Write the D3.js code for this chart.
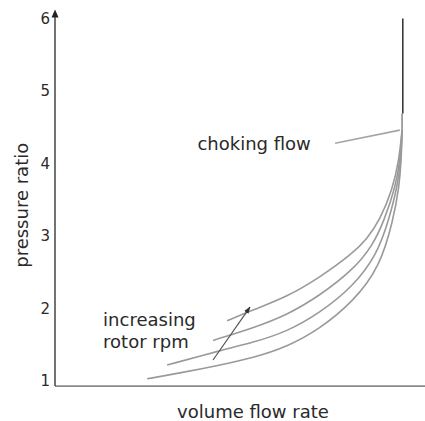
<!DOCTYPE html>
<html><head><meta charset="utf-8">
<script src="https://cdn.jsdelivr.net/npm/d3@7"></script>
<style>html,body{margin:0;padding:0;background:#fff;}svg{display:block;}</style>
</head><body>
<script>
// ---- data ----
const yTicks = [1, 2, 3, 4, 5, 6];
const yTitle = "pressure ratio";
const xTitle = "volume flow rate";
// speed lines, lowest rpm first: [flow, pressure ratio]
const curve1 = [[2.49,1.03],[3.38,1.11],[4.46,1.22],[5.35,1.32],[6.27,1.47],[7.16,1.72],[8.05,2.09],[8.78,2.57],[9.14,3.22],[9.30,3.67],[9.36,4.05],[9.38,4.46]];
const curve2 = [[3.03,1.22],[4.46,1.42],[5.35,1.53],[6.27,1.68],[7.16,1.94],[8.05,2.30],[8.70,2.74],[9.02,3.22],[9.25,3.67],[9.35,4.05],[9.38,4.46]];
const curve3 = [[4.27,1.56],[5.35,1.73],[6.27,1.91],[7.16,2.18],[8.05,2.53],[8.59,2.87],[8.90,3.22],[9.20,3.67],[9.33,4.05],[9.38,4.46]];
const curve4 = [[4.65,1.83],[5.35,1.98],[6.27,2.16],[7.16,2.43],[8.05,2.76],[8.43,2.96],[8.78,3.22],[9.12,3.64],[9.30,4.05],[9.38,4.46]];
const chokeGray = [[9.38,4.46],[9.38,4.69]];
const chokeDark = [[9.40,4.69],[9.40,6.0]];
const rpmArrow = [[4.27,1.29],[5.27,2.02]];
const chokeLeader = [[7.57,4.28],[9.32,4.46]];
const labels = [
  {text:"choking flow", x:3.85, y:4.18},
  {text:"increasing", x:1.30, y:1.76},
  {text:"rotor rpm", x:1.30, y:1.46}
];
const xMin = 0, xMax = 10, yBase = 0.93, yTop = 6;

// ---- drawing ----
const W = 425, H = 421;
const svg = d3.select("body").append("svg").attr("width", W).attr("height", H);
const x = d3.scaleLinear().domain([xMin, xMax]).range([55, 425]);
const y = d3.scaleLinear().domain([1, 6]).range([381, 18.5]);
const font = "'DejaVu Sans', Verdana, sans-serif";

const defs = svg.append("defs");
defs.append("marker").attr("id","ah").attr("viewBox","0 0 10 10").attr("refX",9).attr("refY",5)
  .attr("markerWidth",6).attr("markerHeight",6).attr("orient","auto")
  .append("path").attr("d","M0,1.5L10,5L0,8.5Z").attr("fill","#333");

// x axis line
svg.append("line").attr("x1", x(xMin)).attr("x2", x(xMax)).attr("y1", y(yBase)).attr("y2", y(yBase))
  .attr("stroke","#8a8a8a").attr("stroke-width",1.6);
// y axis line with arrow
svg.append("line").attr("x1", x(xMin)).attr("x2", x(xMin)).attr("y1", y(yBase)).attr("y2", y(yTop)-2)
  .attr("stroke","#444").attr("stroke-width",1.5);
svg.append("path")
  .attr("d", `M${x(xMin)},${y(yTop)-9}L${x(xMin)-3.5},${y(yTop)-1}L${x(xMin)+3.5},${y(yTop)-1}Z`)
  .attr("fill","#222");

// tick labels
svg.append("g").selectAll("text").data(yTicks).join("text")
  .attr("x", 50).attr("y", d => y(d)).attr("dy","0.35em")
  .attr("text-anchor","end").attr("font-family",font).attr("font-size",15).attr("fill","#2a2a2a")
  .text(d => d);

// titles
svg.append("text").attr("transform", `translate(28,${(y(yTop)+y(yBase))/2 + 3}) rotate(-90)`)
  .attr("text-anchor","middle").attr("font-family",font).attr("font-size",18).attr("fill","#2a2a2a")
  .text(yTitle);
svg.append("text").attr("x", 253).attr("y", 418).attr("text-anchor","middle")
  .attr("font-family",font).attr("font-size",18).attr("fill","#2a2a2a").text(xTitle);

// curves
const line = d3.line().x(d => x(d[0])).y(d => y(d[1])).curve(d3.curveBasis);
const straight = d3.line().x(d => x(d[0])).y(d => y(d[1]));
svg.append("g").selectAll("path").data([curve1, curve2, curve3, curve4]).join("path")
  .attr("d", line).attr("fill","none").attr("stroke","#9a9a9a").attr("stroke-width",1.6);
svg.append("path").attr("d", straight(chokeGray)).attr("fill","none").attr("stroke","#8f8f8f").attr("stroke-width",1.6);
svg.append("path").attr("d", straight(chokeDark)).attr("fill","none").attr("stroke","#3a3a3a").attr("stroke-width",1.6);
svg.append("path").attr("d", straight(chokeLeader)).attr("fill","none").attr("stroke","#a5a5a5").attr("stroke-width",1.6);
svg.append("path").attr("d", straight(rpmArrow)).attr("fill","none").attr("stroke","#555").attr("stroke-width",1.2)
  .attr("marker-end","url(#ah)");

// annotation labels
svg.append("g").selectAll("text").data(labels).join("text")
  .attr("x", d => x(d.x)).attr("y", d => y(d.y))
  .attr("font-family",font).attr("font-size",18).attr("fill","#2a2a2a").text(d => d.text);
</script>
</body></html>
